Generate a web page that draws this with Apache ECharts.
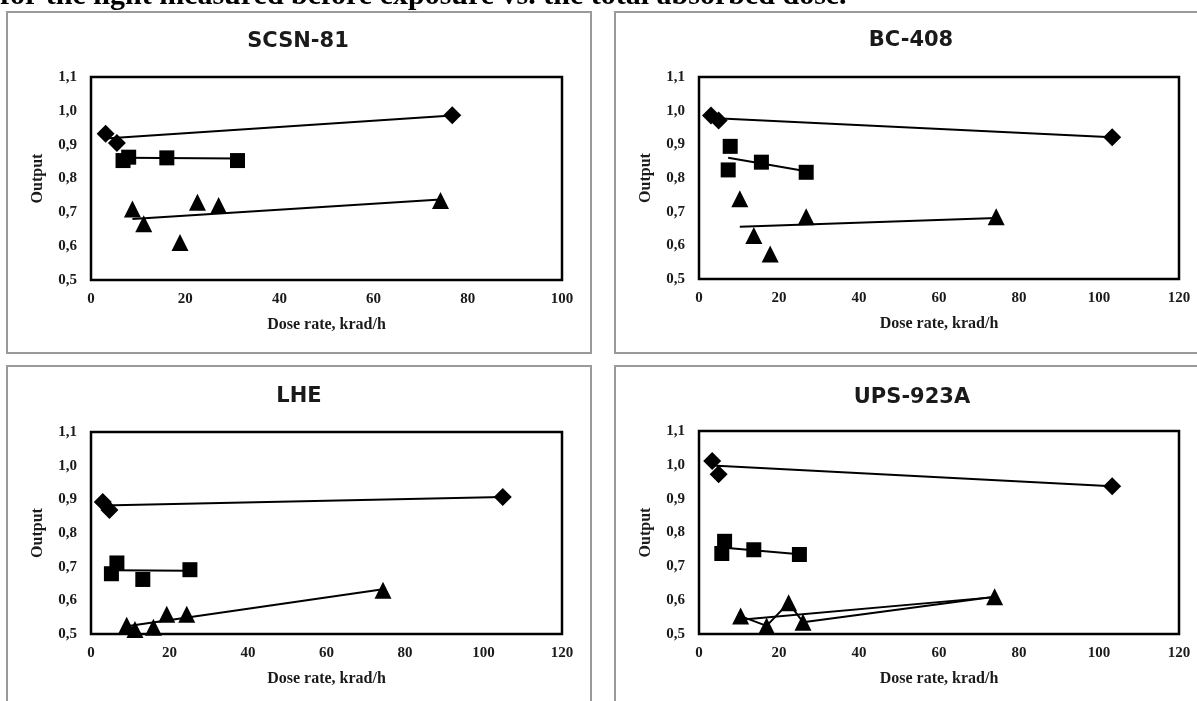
<!DOCTYPE html>
<html>
<head>
<meta charset="utf-8">
<script src="https://cdn.jsdelivr.net/npm/echarts@6.0.0/dist/echarts.min.js"></script>
<style>
  html, body { margin: 0; padding: 0; background: #fff; }
  #main { width: 1197px; height: 701px; }
</style>
</head>
<body>
<div id="main"></div>
<script>
  // values: [dose rate krad/h, output]
  var scsnDiamond = [[3.1, 0.932], [5.5, 0.905], [76.7, 0.987]];
  var scsnSquare = [[6.8, 0.853], [8.0, 0.863], [16.1, 0.861], [31.1, 0.853]];
  var scsnTriangle = [[8.8, 0.71], [11.2, 0.666], [18.9, 0.611], [22.6, 0.73], [27.1, 0.72], [74.2, 0.735]];
  var scsnDiamondFit = [[3.1, 0.918], [76.7, 0.986]];
  var scsnSquareFit = [[6.8, 0.861], [31.1, 0.859]];
  var scsnTriangleFit = [[8.8, 0.68], [74.2, 0.738]];

  var bcDiamond = [[3.0, 0.986], [4.9, 0.971], [103.3, 0.921]];
  var bcSquare = [[7.8, 0.894], [7.3, 0.824], [15.6, 0.847], [26.8, 0.817]];
  var bcTriangle = [[10.2, 0.738], [13.7, 0.629], [17.8, 0.574], [26.8, 0.685], [74.3, 0.685]];
  var bcDiamondFit = [[3.0, 0.978], [103.3, 0.921]];
  var bcSquareFit = [[7.3, 0.86], [26.8, 0.82]];
  var bcTriangleFit = [[10.2, 0.655], [74.3, 0.681]];

  var lheDiamond = [[3.0, 0.892], [4.7, 0.868], [104.9, 0.907]];
  var lheSquare = [[5.2, 0.679], [6.6, 0.711], [13.2, 0.662], [25.2, 0.691]];
  var lheTriangle = [[9.1, 0.526], [11.2, 0.513], [15.9, 0.52], [19.3, 0.559], [24.4, 0.559], [74.4, 0.63]];
  var lheDiamondFit = [[3.0, 0.882], [104.9, 0.907]];
  var lheSquareFit = [[5.2, 0.689], [25.2, 0.688]];
  var lheTriangleFit = [[9.1, 0.523], [74.4, 0.633]];

  var upsDiamond = [[3.3, 1.011], [4.9, 0.972], [103.3, 0.937]];
  var upsSquare = [[5.7, 0.738], [6.4, 0.774], [13.7, 0.749], [25.1, 0.735]];
  var upsTriangle = [[10.4, 0.553], [16.9, 0.524], [22.4, 0.592], [26.0, 0.535], [73.9, 0.61]];
  var upsDiamondFit = [[3.3, 0.998], [103.3, 0.937]];
  var upsSquareFit = [[5.7, 0.756], [25.1, 0.736]];
  var upsTriangleFit = [[10.4, 0.542], [73.9, 0.609]];

  var panelTitles = ['SCSN-81', 'BC-408', 'LHE', 'UPS-923A'];
  var xMaxes = [100, 120, 120, 120];
  var yTicks = ['0,5', '0,6', '0,7', '0,8', '0,9', '1,0', '1,1'];
  var headText = 'for the light measured before exposure vs. the total absorbed dose.';

  var panels = [
    { diamond: scsnDiamond, square: scsnSquare, triangle: scsnTriangle,
      fits: [scsnDiamondFit, scsnSquareFit, scsnTriangleFit], joinTriangles: false },
    { diamond: bcDiamond, square: bcSquare, triangle: bcTriangle,
      fits: [bcDiamondFit, bcSquareFit, bcTriangleFit], joinTriangles: false },
    { diamond: lheDiamond, square: lheSquare, triangle: lheTriangle,
      fits: [lheDiamondFit, lheSquareFit, lheTriangleFit], joinTriangles: false },
    { diamond: upsDiamond, square: upsSquare, triangle: upsTriangle,
      fits: [upsDiamondFit, upsSquareFit, upsTriangleFit], joinTriangles: true }
  ];

  // layout of the four plot areas and their frames
  var grids = [
    { left: 91, top: 77, width: 471, height: 203 },
    { left: 699, top: 77, width: 480, height: 202 },
    { left: 91, top: 432, width: 471, height: 202 },
    { left: 699, top: 431, width: 480, height: 203 }
  ];
  var frames = [
    { x: 7, y: 12, width: 584, height: 341 },
    { x: 615, y: 12, width: 620, height: 341 },
    { x: 7, y: 366, width: 584, height: 400 },
    { x: 615, y: 366, width: 620, height: 400 }
  ];
  var titlePos = [[298, 42], [911, 41], [299, 397], [912, 398]];

  var serif = 'Liberation Serif';
  var ink = '#1a1a1a';
  var black = { color: '#000', opacity: 1 };

  var myChart = echarts.init(document.getElementById('main'), null, { renderer: 'canvas' });

  var grid = [], xAxis = [], yAxis = [], series = [], graphic = [];

  graphic.push({
    type: 'text', x: 0, y: -4, z: 10,
    style: { text: headText, font: 'bold 30px "Liberation Serif"', fill: '#000', verticalAlign: 'middle' }
  });

  panels.forEach(function (p, i) {
    var f = frames[i];
    graphic.push({
      type: 'rect', z: -1,
      shape: { x: f.x, y: f.y, width: f.width, height: f.height },
      style: { fill: '#fff', stroke: '#9a9a9a', lineWidth: 2 }
    });
    graphic.push({
      type: 'text', x: titlePos[i][0], y: titlePos[i][1], z: 10,
      style: { text: panelTitles[i], font: 'bold 21px "DejaVu Sans"', fill: '#1a1a1a', align: 'center', verticalAlign: 'middle' }
    });

    var g = grids[i];
    grid.push({ left: g.left, top: g.top, width: g.width, height: g.height,
      show: true, borderColor: '#000', borderWidth: 2.5, backgroundColor: '#fff', z: 1 });

    xAxis.push({
      type: 'value', gridIndex: i, min: 0, max: xMaxes[i], interval: 20,
      name: 'Dose rate, krad/h', nameLocation: 'middle', nameGap: 37,
      nameTextStyle: { fontFamily: serif, fontWeight: 'bold', fontSize: 16, color: ink },
      axisLine: { show: false }, axisTick: { show: false },
      axisLabel: { fontFamily: serif, fontWeight: 'bold', fontSize: 15, color: ink, margin: 12 },
      splitLine: { show: true, lineStyle: { color: '#c8c8c8', width: 1 } }
    });
    yAxis.push({
      type: 'value', gridIndex: i, min: 0.5, max: 1.1, interval: 0.1,
      name: 'Output', nameLocation: 'middle', nameGap: 45,
      nameTextStyle: { fontFamily: serif, fontWeight: 'bold', fontSize: 16, color: ink },
      axisLine: { show: false }, axisTick: { show: false },
      axisLabel: {
        fontFamily: serif, fontWeight: 'bold', fontSize: 15, color: ink, margin: 14,
        formatter: function (v) { return yTicks[Math.round((v - 0.5) * 10)]; }
      },
      splitLine: { show: true, lineStyle: { color: '#c8c8c8', width: 1 } }
    });

    p.fits.forEach(function (fit) {
      series.push({
        type: 'line', xAxisIndex: i, yAxisIndex: i, data: fit, symbol: 'none',
        lineStyle: { color: '#000', width: 2 }, z: 3, silent: true
      });
    });

    series.push({
      type: 'scatter', xAxisIndex: i, yAxisIndex: i, data: p.diamond,
      symbol: 'diamond', symbolSize: 18, itemStyle: black, z: 4
    });
    series.push({
      type: 'scatter', xAxisIndex: i, yAxisIndex: i, data: p.square,
      symbol: 'rect', symbolSize: 15, itemStyle: black, z: 4
    });
    if (p.joinTriangles) {
      series.push({
        type: 'line', xAxisIndex: i, yAxisIndex: i, data: p.triangle,
        symbol: 'triangle', symbolSize: 17, showSymbol: true,
        itemStyle: black, lineStyle: { color: '#000', width: 2 }, z: 4
      });
    } else {
      series.push({
        type: 'scatter', xAxisIndex: i, yAxisIndex: i, data: p.triangle,
        symbol: 'triangle', symbolSize: 17, itemStyle: black, z: 4
      });
    }
  });

  myChart.setOption({
    backgroundColor: '#fff',
    animation: false,
    grid: grid,
    xAxis: xAxis,
    yAxis: yAxis,
    series: series,
    graphic: graphic
  });
</script>
</body>
</html>
